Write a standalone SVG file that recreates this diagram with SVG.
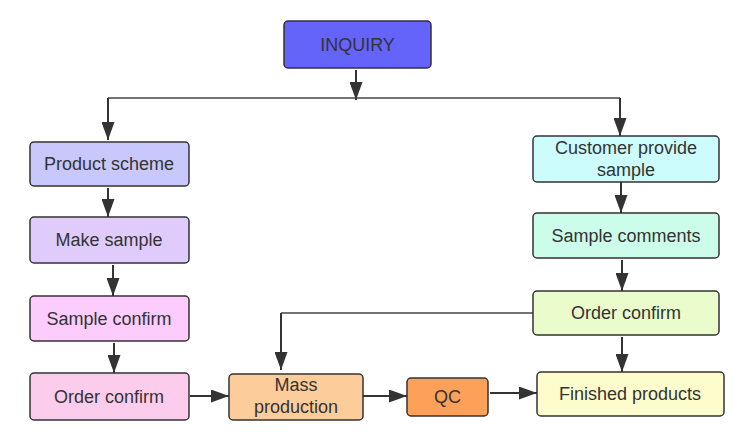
<svg xmlns="http://www.w3.org/2000/svg" width="750" height="446" viewBox="0 0 750 446">
<defs>
<style>
.box{stroke:#333;stroke-width:1.5}
.t{font-family:"Liberation Sans",Arial,sans-serif;font-size:18px;fill:#333;text-anchor:middle}
.c{fill:none;stroke:#333;stroke-width:2}
.c2{fill:none;stroke:#444;stroke-width:1.5}
</style>
<marker id="ah" markerWidth="18" markerHeight="13" refX="18" refY="6.5" viewBox="0 0 18 13" markerUnits="userSpaceOnUse" orient="auto">
<path d="M0,0 L18,6.5 L0,13 Z" fill="#333"/>
</marker>
</defs>
<rect width="750" height="446" fill="#fff"/>
<g id="connectors">
<path class="c" d="M356,70 V100" marker-end="url(#ah)"/>
<path class="c2" d="M108,98 H620"/>
<path class="c" d="M108,98 V140" marker-end="url(#ah)"/>
<path class="c" d="M620,98 V136" marker-end="url(#ah)"/>
<path class="c" d="M108,188 V217" marker-end="url(#ah)"/>
<path class="c" d="M113,265 V296" marker-end="url(#ah)"/>
<path class="c" d="M114,343 V373" marker-end="url(#ah)"/>
<path class="c" d="M190,396 H229" marker-end="url(#ah)"/>
<path class="c" d="M363,396 H407" marker-end="url(#ah)"/>
<path class="c" d="M490,393 H537" marker-end="url(#ah)"/>
<path class="c" d="M621,182 V213" marker-end="url(#ah)"/>
<path class="c" d="M622,260 V291" marker-end="url(#ah)"/>
<path class="c" d="M622,337 V372" marker-end="url(#ah)"/>
<path class="c2" d="M533,313 H281"/>
<path class="c" d="M281,313 V370" marker-end="url(#ah)"/>
</g>
<g id="inquiry"><rect class="box" x="284" y="21" width="147" height="47" rx="4" fill="#6464fa"/><text class="t" x="357.5" y="50.5">INQUIRY</text></g>
<g id="product-scheme"><rect class="box" x="30" y="142" width="159" height="44" rx="4" fill="#c8c8fc"/><text class="t" x="109" y="170">Product scheme</text></g>
<g id="make-sample"><rect class="box" x="30" y="217" width="159" height="46" rx="4" fill="#e0ccfc"/><text class="t" x="109" y="246">Make sample</text></g>
<g id="sample-confirm"><rect class="box" x="30" y="296" width="159" height="45" rx="4" fill="#fcccfc"/><text class="t" x="109" y="324.5">Sample confirm</text></g>
<g id="order-confirm-left"><rect class="box" x="30" y="373" width="159" height="47" rx="4" fill="#fcccec"/><text class="t" x="109" y="402.5">Order confirm</text></g>
<g id="mass-production"><rect class="box" x="229" y="374" width="134" height="46" rx="4" fill="#fccc9a"/><text class="t" x="296" y="391">Mass</text><text class="t" x="296" y="412.5">production</text></g>
<g id="qc"><rect class="box" x="407" y="378" width="81" height="38" rx="4" fill="#fca05a"/><text class="t" x="447.5" y="403">QC</text></g>
<g id="finished-products"><rect class="box" x="537" y="372" width="187" height="44" rx="4" fill="#fcfccc"/><text class="t" x="630" y="400">Finished products</text></g>
<g id="customer-provide-sample"><rect class="box" x="533" y="136" width="186" height="46" rx="4" fill="#ccfcfc"/><text class="t" x="626" y="154">Customer provide</text><text class="t" x="626" y="176">sample</text></g>
<g id="sample-comments"><rect class="box" x="533" y="213" width="186" height="45" rx="4" fill="#ccfcea"/><text class="t" x="626" y="241.5">Sample comments</text></g>
<g id="order-confirm-right"><rect class="box" x="533" y="291" width="186" height="44" rx="4" fill="#eafccc"/><text class="t" x="626" y="318.5">Order confirm</text></g>
</svg>
